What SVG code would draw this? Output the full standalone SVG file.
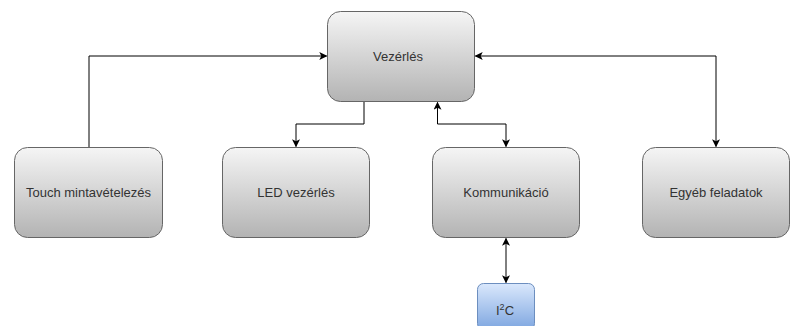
<svg xmlns="http://www.w3.org/2000/svg" width="792" height="326" viewBox="0 0 792 326">
  <style>
    .box { fill: url(#gray); stroke: #666666; stroke-width: 1; }
    .blue { fill: url(#blue); stroke: #6c8ebf; stroke-width: 1; }
    .lbl { font-family: "Liberation Sans", Arial, sans-serif; font-size: 13px; fill: #333333; text-anchor: middle; dominant-baseline: central; }
    .edge { fill: none; stroke: #000000; stroke-width: 1; }
  </style>
  <defs>
    <linearGradient id="gray" x1="0" y1="0" x2="0" y2="1">
      <stop offset="0" stop-color="#f5f5f5"/>
      <stop offset="1" stop-color="#b3b3b3"/>
    </linearGradient>
    <linearGradient id="blue" x1="0" y1="0" x2="0" y2="1">
      <stop offset="0" stop-color="#dae8fc"/>
      <stop offset="1" stop-color="#7ea6e0"/>
    </linearGradient>
    <marker id="arrow" viewBox="0 0 10 10" refX="9" refY="5" markerWidth="8" markerHeight="8" markerUnits="userSpaceOnUse" orient="auto-start-reverse">
      <path d="M0,0 L10,5 L0,10 L2.5,5 Z" fill="#000000"/>
    </marker>
  </defs>

  <g id="connectors">
    <path class="edge" d="M89,147.5 V56 H326.5" marker-end="url(#arrow)"/>
    <path class="edge" d="M364,101.5 V124 H296 V146.5" marker-end="url(#arrow)"/>
    <path class="edge" d="M437.5,102.5 V124 H506 V146.5" marker-start="url(#arrow)" marker-end="url(#arrow)"/>
    <path class="edge" d="M475.5,56 H716 V146.5" marker-start="url(#arrow)" marker-end="url(#arrow)"/>
    <path class="edge" d="M506,238.5 V282.5" marker-start="url(#arrow)" marker-end="url(#arrow)"/>
  </g>

  <g id="vezerles">
    <rect class="box" x="327.5" y="11.5" width="147" height="90" rx="13"/>
    <text class="lbl" x="398" y="56.5">Vezérlés</text>
  </g>
  <g id="touch">
    <rect class="box" x="14.5" y="147.5" width="148" height="90" rx="13"/>
    <text class="lbl" x="88.5" y="192.5">Touch mintavételezés</text>
  </g>
  <g id="led">
    <rect class="box" x="222.5" y="147.5" width="147" height="90" rx="13"/>
    <text class="lbl" x="296" y="192.5">LED vezérlés</text>
  </g>
  <g id="kommunikacio">
    <rect class="box" x="432.5" y="147.5" width="147" height="90" rx="13"/>
    <text class="lbl" x="506" y="192.5">Kommunikáció</text>
  </g>
  <g id="egyeb">
    <rect class="box" x="642.5" y="147.5" width="147" height="90" rx="13"/>
    <text class="lbl" x="716" y="192.5">Egyéb feladatok</text>
  </g>
  <g id="i2c">
    <rect class="blue" x="477.5" y="283.5" width="57" height="46" rx="6"/>
    <text class="lbl" x="505" y="310">I<tspan font-size="9" dy="-3">2</tspan><tspan dy="3">C</tspan></text>
  </g>
</svg>
